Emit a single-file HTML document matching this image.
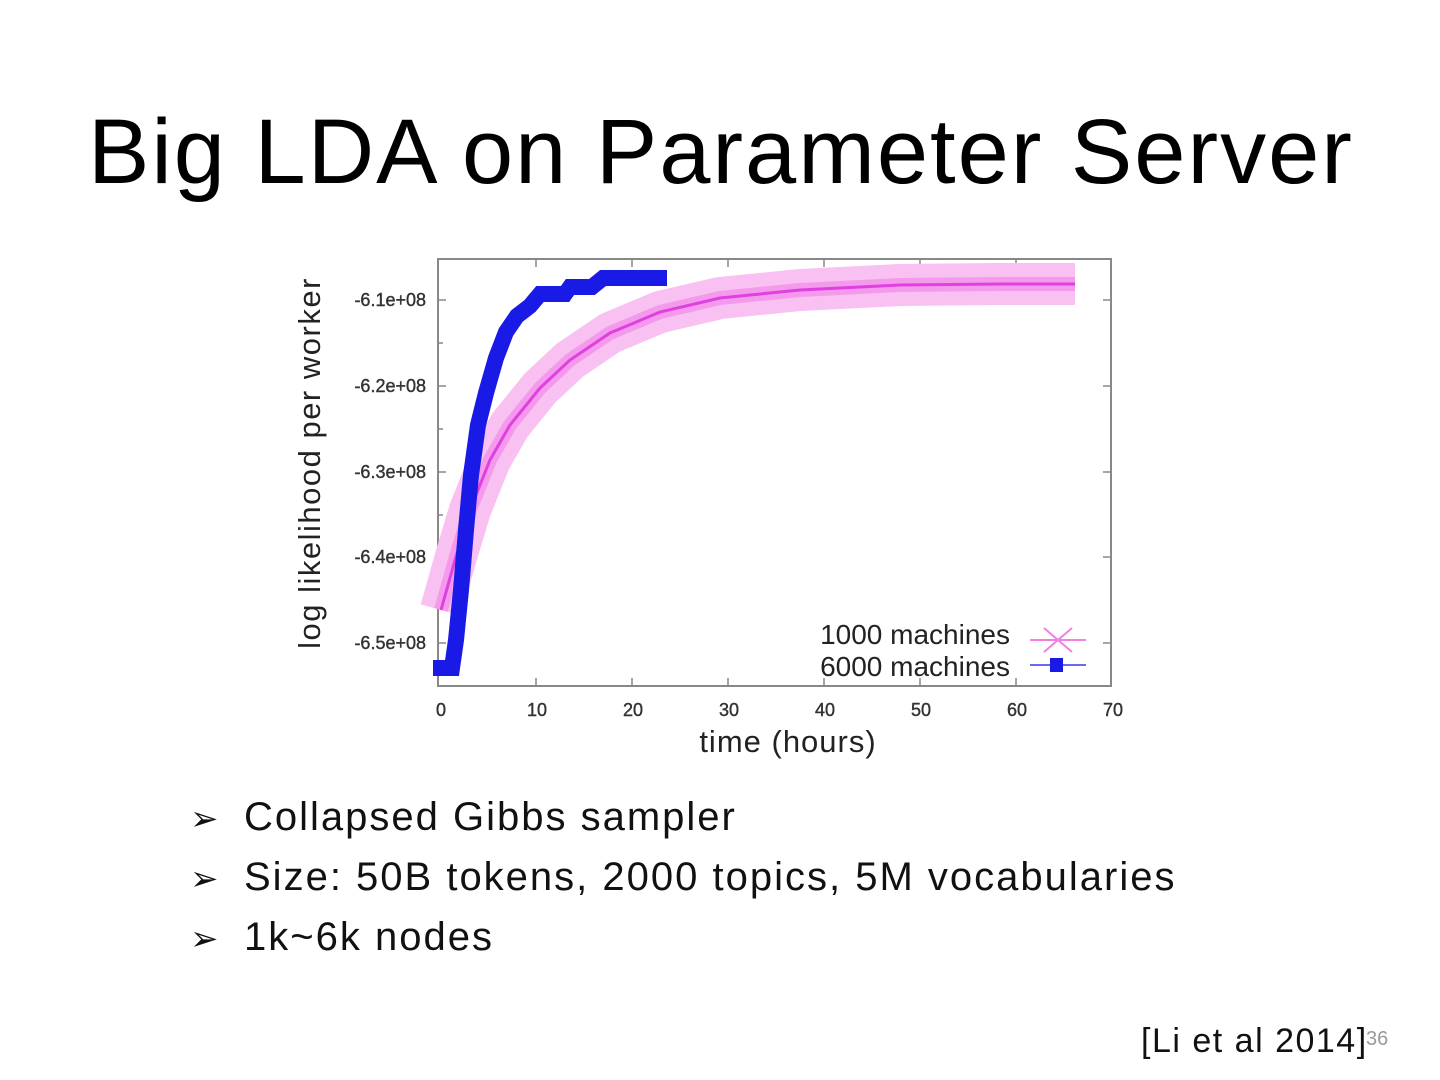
<!DOCTYPE html>
<html><head><style>
body{margin:0;width:1440px;height:1080px;background:#fff;font-family:"Liberation Sans",sans-serif;overflow:hidden;position:relative}
.t{position:absolute;left:88px;top:100px;font-size:92px;color:#000;letter-spacing:2px}
.b{position:absolute;left:190px;font-size:40px;color:#111;letter-spacing:2px}
.b span{display:inline-block;width:54px;font-size:34px;letter-spacing:0}
</style></head><body>
<div class="t">Big LDA on Parameter Server</div>
<svg width="1440" height="1080" style="position:absolute;left:0;top:0">
<rect x="438" y="259" width="673" height="427" fill="none" stroke="#888" stroke-width="2"/>
<g stroke="#888" stroke-width="1.5">
<line x1="438" y1="300" x2="446" y2="300"/><line x1="438" y1="386" x2="446" y2="386"/><line x1="438" y1="472" x2="446" y2="472"/><line x1="438" y1="557" x2="446" y2="557"/><line x1="438" y1="643" x2="446" y2="643"/>
<line x1="438" y1="343" x2="443" y2="343"/><line x1="438" y1="429" x2="443" y2="429"/><line x1="438" y1="515" x2="443" y2="515"/><line x1="438" y1="600" x2="443" y2="600"/>
<line x1="1103" y1="300" x2="1111" y2="300"/><line x1="1103" y1="386" x2="1111" y2="386"/><line x1="1103" y1="472" x2="1111" y2="472"/><line x1="1103" y1="557" x2="1111" y2="557"/><line x1="1103" y1="643" x2="1111" y2="643"/>
<line x1="536" y1="686" x2="536" y2="678"/><line x1="632" y1="686" x2="632" y2="678"/><line x1="728" y1="686" x2="728" y2="678"/><line x1="824" y1="686" x2="824" y2="678"/><line x1="920" y1="686" x2="920" y2="678"/><line x1="1016" y1="686" x2="1016" y2="678"/>
<line x1="536" y1="259" x2="536" y2="267"/><line x1="632" y1="259" x2="632" y2="267"/><line x1="728" y1="259" x2="728" y2="267"/><line x1="824" y1="259" x2="824" y2="267"/><line x1="920" y1="259" x2="920" y2="267"/><line x1="1016" y1="259" x2="1016" y2="267"/>
</g>
<g font-size="18" fill="#333" text-anchor="end" stroke="#333" stroke-width="0.4">
<text x="426" y="306">-6.1e+08</text><text x="426" y="392">-6.2e+08</text><text x="426" y="478">-6.3e+08</text><text x="426" y="563">-6.4e+08</text><text x="426" y="649">-6.5e+08</text>
</g>
<g font-size="18" fill="#333" text-anchor="middle" stroke="#333" stroke-width="0.4">
<text x="441" y="716">0</text><text x="537" y="716">10</text><text x="633" y="716">20</text><text x="729" y="716">30</text><text x="825" y="716">40</text><text x="921" y="716">50</text><text x="1017" y="716">60</text><text x="1113" y="716">70</text>
</g>
<text x="788" y="752" font-size="31" text-anchor="middle" fill="#222" letter-spacing="1">time (hours)</text>
<text transform="translate(320,463) rotate(-90)" font-size="31" text-anchor="middle" fill="#222" letter-spacing="1.5">log likelihood per worker</text>
<polyline fill="none" stroke="#f9c0f2" stroke-width="42" stroke-linejoin="round" points="441,610 455,560 470,510 490,460 510,425 540,388 570,360 610,333 660,312 720,298 800,290 900,285 1000,284 1075,284"/>
<polyline fill="none" stroke="#f080e8" stroke-width="14" stroke-linejoin="round" opacity="0.6" points="441,610 455,560 470,510 490,460 510,425 540,388 570,360 610,333 660,312 720,298 800,290 900,285 1000,284 1075,284"/>
<polyline fill="none" stroke="#e040e0" stroke-width="3" points="441,610 455,560 470,510 490,460 510,425 540,388 570,360 610,333 660,312 720,298 800,290 900,285 1000,284 1075,284"/>
<polyline fill="none" stroke="#1a1ae6" stroke-width="16" stroke-linejoin="miter" points="433,668 452,668 456,640 461,590 466,530 471,475 478,425 486,393 496,358 506,332 517,316 530,306 540,294 565,294 570,287 592,287 603,278 667,278"/>
<text x="1010" y="644" font-size="28" text-anchor="end" fill="#222">1000 machines</text>
<text x="1010" y="676" font-size="28" text-anchor="end" fill="#222">6000 machines</text>
<line x1="1030" y1="640" x2="1086" y2="640" stroke="#f080e8" stroke-width="2"/>
<line x1="1044" y1="628" x2="1072" y2="652" stroke="#f080e8" stroke-width="2"/><line x1="1044" y1="652" x2="1072" y2="628" stroke="#f080e8" stroke-width="2"/>
<line x1="1030" y1="665" x2="1086" y2="665" stroke="#6b6bf0" stroke-width="2"/>
<rect x="1050" y="658" width="13" height="14" fill="#1a1ae6"/>
</svg>
<div class="b" style="top:795px"><span>➢</span>Collapsed Gibbs sampler</div>
<div class="b" style="top:855px"><span>➢</span>Size: 50B tokens, 2000 topics, 5M vocabularies</div>
<div class="b" style="top:915px"><span>➢</span>1k~6k nodes</div>
<div style="position:absolute;left:1141px;top:1022px;font-size:34px;color:#111;letter-spacing:1.5px">[Li et al 2014]</div>
<div style="position:absolute;left:1366px;top:1028px;font-size:20px;color:#999">36</div>
</body></html>
